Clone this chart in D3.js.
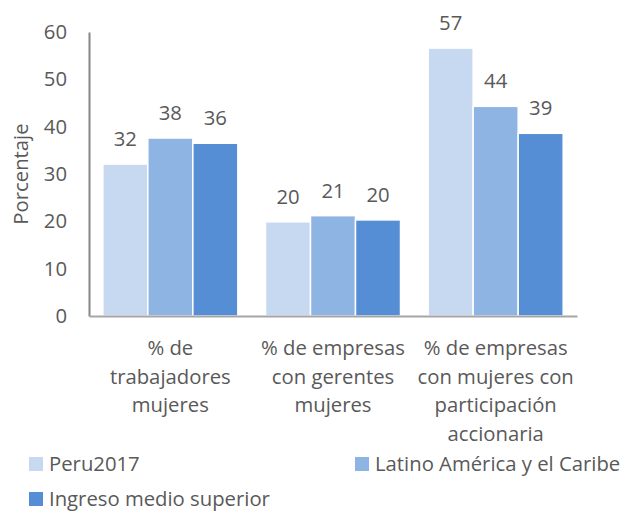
<!DOCTYPE html>
<html><head><meta charset="utf-8">
<script src="https://cdn.jsdelivr.net/npm/d3@7"></script>
<style>body{margin:0;background:#fff}svg{display:block}</style>
</head><body><svg id="c" width="628" height="512"></svg>
<script>
const categories = ["% de trabajadores mujeres", "% de empresas con gerentes mujeres", "% de empresas con mujeres con participación accionaria"];
const categoryLines = [["% de","trabajadores","mujeres"],["% de empresas","con gerentes","mujeres"],["% de empresas","con mujeres con","participación","accionaria"]];
const series = ["Peru2017", "Latino América y el Caribe", "Ingreso medio superior"];
const peru2017 = [32.1, 19.9, 56.6];
const latam = [37.6, 21.2, 44.3];
const ingresoMedio = [36.5, 20.3, 38.6];
const labels = [[32,20,57],[38,21,44],[36,20,39]];
const yTicks = [0,10,20,30,40,50,60];
const colors = ["#C6D9F1", "#8EB4E3", "#558ED5"];
const values = [peru2017, latam, ingresoMedio];

const font = "'Open Sans', 'Noto Sans', sans-serif";
const fs = 20.3;
const textColor = "#595959";
const svg = d3.select("#c");
const L = 89, R = 577, T = 32, B = 316;
const y = d3.scaleLinear().domain([0,60]).range([B,T]);
const x0 = d3.scaleBand().domain(categories).range([L,R]).paddingInner(0.17).paddingOuter(0.085);
const x1 = d3.scaleBand().domain(series).range([0, x0.bandwidth()]);

// bars
series.forEach((s, si) => {
  const g = svg.append("g");
  g.selectAll("rect").data(categories).join("rect")
    .attr("x", (c) => x0(c) + x1(s))
    .attr("y", (c, i) => y(values[si][i]))
    .attr("width", x1.bandwidth())
    .attr("height", (c, i) => B - y(values[si][i]))
    .attr("fill", colors[si])
    .attr("stroke", "#fff").attr("stroke-width", 1.5);
  g.selectAll("text").data(categories).join("text")
    .attr("x", (c) => x0(c) + x1(s) + x1.bandwidth()/2)
    .attr("y", (c, i) => y(values[si][i]) - 18)
    .attr("text-anchor", "middle")
    .attr("font-family", font).attr("font-size", fs).attr("fill", textColor)
    .text((c, i) => labels[si][i]);
});

// y axis
const yAxis = d3.axisLeft(y).tickValues(yTicks).tickSize(0).tickPadding(22);
const ya = svg.append("g").attr("transform", `translate(${L},0)`).call(yAxis);
ya.select(".domain").attr("stroke", "#868686").attr("stroke-width", 2);
ya.selectAll("text").attr("font-family", font).attr("font-size", fs).attr("fill", textColor);

// x axis
const xAxis = d3.axisBottom(x0).tickSize(0).tickFormat("");
const xa = svg.append("g").attr("transform", `translate(0,${B})`).call(xAxis);
xa.select(".domain").attr("stroke", "#A6A6A6").attr("stroke-width", 2);

categories.forEach((c, i) => {
  const t = svg.append("text")
    .attr("text-anchor", "middle")
    .attr("font-family", font).attr("font-size", fs).attr("fill", textColor);
  categoryLines[i].forEach((ln, j) => {
    t.append("tspan").attr("x", x0(c) + x0.bandwidth()/2).attr("y", 355 + j*28.7).text(ln);
  });
});

// y title
svg.append("text")
  .attr("transform", `translate(28,${(T+B)/2}) rotate(-90)`)
  .attr("text-anchor", "middle")
  .attr("font-family", font).attr("font-size", fs).attr("fill", textColor)
  .text("Porcentaje");

// legend
const legendPos = [[29,457],[355,457],[29,492]];
series.forEach((s, i) => {
  const [lx, ly] = legendPos[i];
  svg.append("rect").attr("x", lx).attr("y", ly).attr("width", 14).attr("height", 14).attr("fill", colors[i]);
  svg.append("text").attr("x", lx + 20).attr("y", ly + 14)
    .attr("font-family", font).attr("font-size", fs).attr("fill", textColor)
    .text(s);
});
</script></body></html>
